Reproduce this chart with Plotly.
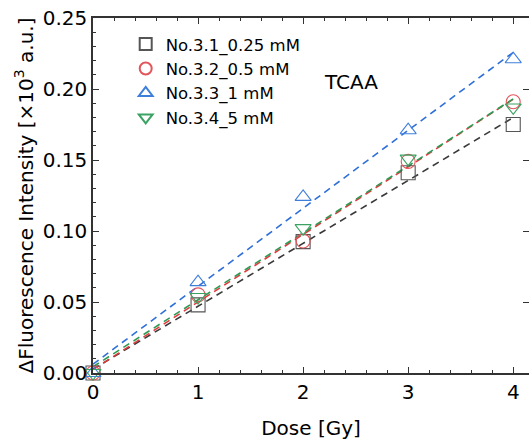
import numpy as np
import plotly.graph_objects as go

# Dose [Gy]
dose = [0, 1, 2, 3, 4]

# delta fluorescence intensity [x10^3 a.u.]
no31 = [0.0, 0.048, 0.0925, 0.141, 0.175]
no32 = [0.0, 0.055, 0.093, 0.149, 0.191]
no33 = [0.0, 0.064, 0.124, 0.171, 0.221]
no34 = [0.0, 0.0535, 0.102, 0.151, 0.187]

names = ['No.3.1_0.25 mM', 'No.3.2_0.5 mM', 'No.3.3_1 mM', 'No.3.4_5 mM']
FONT = 'DejaVu Sans, Arial, sans-serif'


def main():
    series = [no31, no32, no33, no34]
    symbols = ['square-open', 'circle-open', 'triangle-up-open', 'triangle-down-open']
    mcolors = ['#555555', '#e2555a', '#3f7fdc', '#3aa262']
    lcolors = ['#3a3a3a', '#e03a3a', '#2f6fd8', '#2f9a55']

    fig = go.Figure()

    # linear fits (dashed)
    xs = np.array([0, 4])
    for ys, c in zip(series, lcolors):
        k, b = np.polyfit(dose, ys, 1)
        fig.add_trace(go.Scatter(
            x=xs, y=k * xs + b, mode='lines',
            line=dict(color=c, width=1.6, dash='7px,5px'),
            showlegend=False, hoverinfo='skip', cliponaxis=False
        ))

    for ys, name, sym, c in zip(series, names, symbols, mcolors):
        fig.add_trace(go.Scatter(
            x=dose, y=ys, mode='markers', name=name,
            marker=dict(symbol=sym, size=14, color=c, line=dict(width=1.1, color=c)),
            cliponaxis=False
        ))

    axis_common = dict(
        showline=True, linecolor='#333333', linewidth=1.5,
        ticks='inside', ticklen=6, tickwidth=1.2, tickcolor='#333333',
        showgrid=False, zeroline=False,
        tickfont=dict(size=20, color='black', family=FONT),
    )

    fig.update_layout(
        width=529, height=448,
        margin=dict(l=93, r=0, t=18, b=75),
        plot_bgcolor='white', paper_bgcolor='white',
        font=dict(family=FONT, color='black'),
        hovermode=False,
        xaxis=dict(
            range=[0, 4.15], dtick=1, mirror='ticks',
            minor=dict(dtick=0.2, ticks='inside', ticklen=3, tickcolor='#333333'),
            title=dict(text='Dose [Gy]', font=dict(size=20), standoff=18),
            **axis_common
        ),
        yaxis=dict(
            range=[0, 0.25], dtick=0.05, tickformat='.2f',
            minor=dict(dtick=0.01, ticks='inside', ticklen=3, tickcolor='#333333'),
            title=dict(text='ΔFluorescence Intensity [×10<sup>3</sup> a.u.]',
                       font=dict(size=20), standoff=4),
            **axis_common
        ),
        # right-hand ticks only (frame edge is cut off in the reference)
        yaxis2=dict(
            overlaying='y', side='right', matches='y', showticklabels=False,
            ticks='inside', ticklen=6, tickcolor='#333333', dtick=0.05,
            showline=False, showgrid=False, zeroline=False,
        ),
        legend=dict(
            x=0.075, y=0.975, xanchor='left', yanchor='top',
            bgcolor='rgba(0,0,0,0)', font=dict(size=16.5),
            itemsizing='constant', tracegroupgap=0,
        ),
        annotations=[dict(
            x=2.457, y=0.205, xref='x', yref='y', text='TCAA',
            showarrow=False, font=dict(size=20, color='black')
        )],
    )

    # dummy trace so the right axis renders
    fig.add_trace(go.Scatter(x=[None], y=[None], yaxis='y2', showlegend=False, hoverinfo='skip'))

    fig.write_html('out.html', config={'displayModeBar': False},
                   post_script="document.body.style.margin='0';")
    return fig


if __name__ == '__main__':
    main()
